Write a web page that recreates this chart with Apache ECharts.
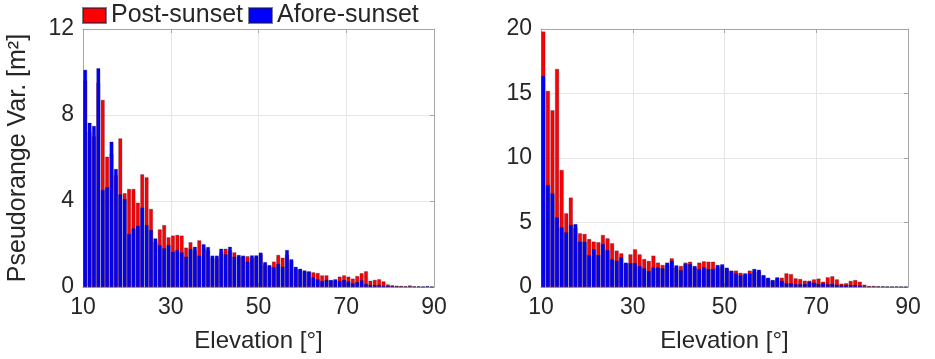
<!DOCTYPE html>
<html>
<head>
<meta charset="utf-8">
<script src="https://cdn.jsdelivr.net/npm/echarts@6/dist/echarts.min.js"></script>
<style>html,body{margin:0;padding:0;background:#fff}#c{width:935px;height:359px}</style>
</head>
<body>
<div id="c"></div>
<script>
// Elevation bins (degrees, bin start)
const elevation = [10,11,12,13,14,15,16,17,18,19,20,21,22,23,24,25,26,27,28,29,
30,31,32,33,34,35,36,37,38,39,40,41,42,43,44,45,46,47,48,49,
50,51,52,53,54,55,56,57,58,59,60,61,62,63,64,65,66,67,68,69,
70,71,72,73,74,75,76,77,78,79,80,81,82,83,84,85,86,87,88,89];

// Left panel
const leftPost = [9.6,7.2,7.0,9.5,8.7,6.06,6.2,5.2,6.91,4.36,4.56,4.56,3.92,5.24,5.1,3.63,2.1,2.68,2.88,2.31,
2.39,2.42,2.39,1.83,2.08,1.7,2.17,1.8,1.7,1.35,1.35,1.6,1.78,1.7,1.61,1.4,1.4,1.43,1.35,1.4,
1.5,1.05,0.95,1.18,1.49,1.36,1.5,1.2,0.85,0.8,0.7,0.7,0.68,0.65,0.54,0.54,0.3,0.3,0.48,0.54,
0.48,0.39,0.51,0.64,0.73,0.29,0.33,0.36,0.26,0.12,0.08,0.06,0.05,0.04,0.07,0.03,0.02,0.02,0.02,0.01];
const leftAfore = [10.1,7.64,7.49,10.17,4.51,4.64,6.76,5.49,4.31,4.09,2.47,2.73,2.85,3.69,2.88,2.65,2.26,1.95,1.8,1.95,
1.64,1.72,1.61,1.41,1.77,1.87,1.46,1.99,1.86,1.46,1.46,1.78,1.52,1.87,1.41,1.49,1.46,1.18,1.47,1.47,
1.6,1.16,1.02,0.92,1.07,0.94,1.72,1.29,0.94,0.85,0.77,0.73,0.45,0.36,0.28,0.33,0.33,0.36,0.28,0.33,
0.26,0.17,0.23,0.31,0.14,0.1,0.08,0.1,0.05,0.05,0.04,0.03,0.03,0.02,0.03,0.02,0.03,0.01,0.04,0.01];

// Right panel
const rightPost = [19.8,15.2,13.7,16.9,9.07,5.71,6.93,4.6,4.16,4.11,3.72,3.52,3.47,4.03,3.77,3.39,2.82,2.61,1.8,2.53,
2.92,2.53,2.17,2.02,2.43,1.89,1.71,1.7,2.22,1.5,1.63,1.89,1.96,1.5,1.89,1.99,1.96,1.96,1.5,1.6,
1.4,1.27,1.27,1.1,0.95,1.27,1.2,1.2,0.85,0.65,0.5,0.65,0.72,1.06,1.0,0.67,0.62,0.49,0.49,0.59,
0.65,0.41,0.75,0.83,0.59,0.26,0.29,0.47,0.54,0.41,0.18,0.08,0.08,0.06,0.05,0.02,0.02,0.02,0.01,0.0];
const rightAfore = [16.36,7.9,7.26,5.4,4.63,4.24,4.81,4.88,3.52,3.5,2.48,2.92,2.48,3.33,2.87,2.14,2.04,2.3,1.89,1.86,
1.86,1.63,1.45,1.24,1.52,1.52,1.45,1.89,2.04,1.68,1.3,1.78,1.78,1.63,1.4,1.52,1.4,1.4,1.71,1.76,
1.5,1.24,1.06,0.91,1.06,1.06,1.4,1.34,0.93,0.72,0.54,0.75,0.49,0.29,0.29,0.22,0.22,0.24,0.39,0.34,
0.22,0.31,0.22,0.24,0.18,0.16,0.16,0.16,0.16,0.12,0.05,0.04,0.04,0.03,0.03,0.03,0.02,0.04,0.02,0.01];

const xTicks = [10,30,50,70,90];
const leftYTicks = [0,4,8,12];
const rightYTicks = [0,5,10,15,20];

const seriesNames = ['Post-sunset','Afore-sunset'];
const colors = ['#ff0000','#0000ff'];

const FONT = 'Liberation Sans';
const TXT = '#262626';
const AX = '#a6a6a6';

function pts(vals){ return elevation.map((e,i)=>[e+0.5, vals[i]]); }

function xAx(gi, show){
  return {
    type:'value', gridIndex:gi, min:xTicks[0], max:xTicks[xTicks.length-1], interval:20,
    position: show ? 'bottom':'top',
    name: show ? 'Elevation [°]' : '', nameLocation:'middle', nameGap:42,
    nameTextStyle:{fontFamily:FONT,fontSize:24,color:TXT},
    axisLine:{show:true,onZero:false,lineStyle:{color:AX,width:1}},
    axisTick:{show:true,inside:true,length:4,lineStyle:{color:AX}},
    axisLabel:{show:show,fontFamily:FONT,fontSize:23,color:TXT,margin:9},
    splitLine:{show:show,lineStyle:{color:'#e6e6e6',width:1}}
  };
}
function yAx(gi, show, ticks, name){
  return {
    type:'value', gridIndex:gi, min:ticks[0], max:ticks[ticks.length-1], interval:ticks[1]-ticks[0],
    position: show ? 'left':'right',
    name: name, nameLocation:'middle', nameGap:52,
    nameTextStyle:{fontFamily:FONT,fontSize:25,color:TXT},
    axisLine:{show:true,onZero:false,lineStyle:{color:AX,width:1}},
    axisTick:{show:true,inside:true,length:4,lineStyle:{color:AX}},
    axisLabel:{show:show,fontFamily:FONT,fontSize:23,color:TXT,margin:9},
    splitLine:{show:show,lineStyle:{color:'#e6e6e6',width:1}}
  };
}
function bars(name, vals, xi, yi, color, bw){
  return {
    type:'bar', name:name, xAxisIndex:xi, yAxisIndex:yi, data:pts(vals),
    barWidth:bw, barGap:'-100%',
    itemStyle:{color:color, borderColor:'rgba(20,20,60,0.55)', borderWidth:0.5},
    emphasis:{disabled:true}, animation:false
  };
}

const chart = echarts.init(document.getElementById('c'), null, {renderer:'canvas'});
chart.setOption({
  animation:false,
  backgroundColor:'#fff',
  legend:{
    data:seriesNames, left:82, top:3, icon:'rect', itemWidth:23, itemHeight:15,
    itemGap:5, itemTextGap:2, padding:0,
    textStyle:{fontFamily:FONT,fontSize:25,color:TXT}
  },
  grid:[
    {left:83, right:501, top:29, bottom:72},
    {left:541, right:27, top:29, bottom:72}
  ],
  xAxis:[xAx(0,true), xAx(0,false), xAx(1,true), xAx(1,false)],
  yAxis:[yAx(0,true,leftYTicks,'Pseudorange Var. [m²]'), yAx(0,false,leftYTicks,''),
         yAx(1,true,rightYTicks,''), yAx(1,false,rightYTicks,'')],
  series:[
    bars(seriesNames[0], leftPost, 0, 0, colors[0], 3.8),
    bars(seriesNames[1], leftAfore, 0, 0, colors[1], 3.8),
    bars(seriesNames[0], rightPost, 2, 2, colors[0], 4.0),
    bars(seriesNames[1], rightAfore, 2, 2, colors[1], 4.0)
  ]
});
</script>
</body>
</html>
